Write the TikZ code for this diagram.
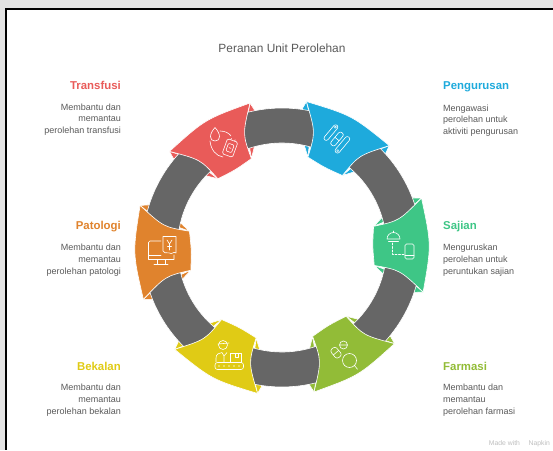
\documentclass[tikz,border=0pt]{standalone}
\usepackage{fontspec}
\setmainfont{Liberation Sans}
\definecolor{ringgray}{HTML}{666666}
\definecolor{textgray}{HTML}{5A5A5A}
\definecolor{transfusired}{HTML}{E95B59}
\definecolor{urusblue}{HTML}{1EAADC}
\definecolor{sajiangreen}{HTML}{3EC686}
\definecolor{farmasilime}{HTML}{92BC37}
\definecolor{bekalanyellow}{HTML}{E0CB15}
\definecolor{patologiorange}{HTML}{E0832D}
\tikzset{
  whiteedge/.style={draw=white,line width=0.6pt,line join=round},
  iconline/.style={draw=white,line width=0.6pt,line cap=round,line join=round},
  headtext/.style={inner sep=0pt,font=\fontsize{11.4}{14}\selectfont\bfseries},
  bodyleft/.style={inner sep=0pt,anchor=north west,align=left,text=textgray,font=\fontsize{9}{11.7}\selectfont},
  bodyright/.style={inner sep=0pt,anchor=north east,align=right,text=textgray,font=\fontsize{9}{11.7}\selectfont}
}
% small tips of a piece, they stay beside the band
\newcommand{\ringflaps}[2]{
  \begin{scope}[shift={(282,202.5)},rotate=#1]
  \filldraw[whiteedge,fill=#2] (18.5:148) -- (19.8:139.5) -- (14:125) -- cycle;
  \filldraw[whiteedge,fill=#2] (12:94) -- (15.5:104) -- (14:118) -- cycle;
  \filldraw[whiteedge,fill=#2] (-18.5:148) -- (-19.8:139.5) -- (-14:125) -- cycle;
  \filldraw[whiteedge,fill=#2] (-12:94) -- (-15.5:104) -- (-14:118) -- cycle;
  \end{scope}
}
\newcommand{\ringband}[2]{
  \filldraw[whiteedge,fill=ringgray,shift={(282,202.5)}] (#1:139.5) arc[start angle=#1,end angle=#2,radius=139.5]
    -- (#2:104.5) arc[start angle=#2,end angle=#1,radius=104.5] -- cycle;
}
\newcommand{\ringpiece}[2]{
  \filldraw[whiteedge,fill=#2,shift={(282,202.5)},rotate=#1] (18.5:148) .. controls (0:149.5) .. (-18.5:148)
    .. controls (-11.8:120) .. (-12:94) .. controls (0:90.5) .. (12:94)
    .. controls (11.8:120) .. (18.5:148) -- cycle;
}
\begin{document}
\begin{tikzpicture}[x=1pt,y=1pt]
\useasboundingbox (0,0) rectangle (553,450);
\fill[gray!22] (0,0) rectangle (553,450);
\fill[black] (5,0) rectangle (553,441.5);
\fill[white] (6.6,0) rectangle (553,440);

\ringflaps{1}{sajiangreen}
\ringflaps{62}{urusblue}
\ringflaps{121}{transfusired}
\ringflaps{182}{patologiorange}
\ringflaps{242}{bekalanyellow}
\ringflaps{301}{farmasilime}

\ringband{11}{52}
\ringband{72}{111}
\ringband{131}{172}
\ringband{192}{232}
\ringband{252}{291}
\ringband{311}{351}

\ringpiece{1}{sajiangreen}
\ringpiece{62}{urusblue}
\ringpiece{121}{transfusired}
\ringpiece{182}{patologiorange}
\ringpiece{242}{bekalanyellow}
\ringpiece{301}{farmasilime}

\begin{scope}[shift={(0,450)},yscale=-1]
\node[text=textgray,font=\fontsize{11.9}{14}\selectfont] (title) at (282,48) {Peranan Unit Perolehan};

\node[headtext,text=transfusired,anchor=base east] (transfusihead) at (121,90) {Transfusi};
\node[bodyright] (transfusibody) at (121,103.3) {Membantu dan\\memantau\\perolehan transfusi};
\node[headtext,text=patologiorange,anchor=base east] (patologihead) at (121,230) {Patologi};
\node[bodyright] (patologibody) at (121,244) {Membantu dan\\memantau\\perolehan patologi};
\node[headtext,text=bekalanyellow,anchor=base east] (bekalanhead) at (121,370) {Bekalan};
\node[bodyright] (bekalanbody) at (121,384) {Membantu dan\\memantau\\perolehan bekalan};
\node[headtext,text=urusblue,anchor=base west] (urushead) at (443,90) {Pengurusan};
\node[bodyleft] (urusbody) at (443,104.5) {Mengawasi\\perolehan untuk\\aktiviti pengurusan};
\node[headtext,text=sajiangreen,anchor=base west] (sajianhead) at (443,230) {Sajian};
\node[bodyleft] (sajianbody) at (443,244) {Menguruskan\\perolehan untuk\\peruntukan sajian};
\node[headtext,text=farmasilime,anchor=base west] (farmasihead) at (443,370) {Farmasi};
\node[bodyleft] (farmasibody) at (443,384) {Membantu dan\\memantau\\perolehan farmasi};
\node[anchor=east,inner sep=0pt,text=gray!50,font=\fontsize{6.8}{8}\selectfont] (napkin) at (550,444) {Made with \quad Napkin};

% transfusi icon
\draw[iconline] (215,127.5) .. controls (209,134) and (209,141) .. (215,141) .. controls (221,141) and (221,134) .. (215,127.5);
\draw[iconline] (220,131) .. controls (225,131) and (229,133) .. (231,136);
\draw[iconline] (210,141) .. controls (211,150) and (216,156) .. (223,157);
\begin{scope}[shift={(230,148)},rotate=20]
\draw[iconline,rounded corners=1.5pt] (-5.5,-8) rectangle (5.5,8);
\draw[iconline,rounded corners=1pt] (-3,-4) rectangle (3,4);
\draw[iconline] (-2,-9.5) -- (-2,-8) (2,-9.5) -- (2,-8) (-1,0) -- (1,0);
\end{scope}
% pengurusan icon
\begin{scope}[shift={(337,139)},rotate=40]
\draw[iconline,rounded corners=2.2pt] (-11,-10.5) rectangle (-6.5,8.5);
\draw[iconline,rounded corners=2.2pt] (-2.7,-8) rectangle (2.7,8);
\draw[iconline,rounded corners=2.2pt] (5.5,-9) rectangle (10.3,11);
\draw[iconline] (-2.7,0) -- (2.7,0) (-8.75,-8) circle (1pt) (7.9,8.5) circle (1pt);
\end{scope}
% sajian icon
\draw[iconline] (387,239) -- (400,239) (387,239) arc[start angle=180,end angle=360,x radius=6.5,y radius=6.5];
\draw[iconline] (388.5,241.5) -- (398.5,241.5) (393.5,232.5) -- (393.5,231);
\draw[iconline,dashed,dash pattern=on 2pt off 1.5pt] (392.5,243) -- (392.5,254.5) -- (404,254.5);
\draw[iconline,rounded corners=1.5pt] (405,244) rectangle (414,259);
\draw[iconline] (405,255.5) -- (414,255.5);
% farmasi icon
\begin{scope}[shift={(336,352.7)},rotate=-40]
\draw[iconline,rounded corners=2.5pt] (-3.5,-5.5) rectangle (3.5,5.5);
\draw[iconline] (-3.5,0) -- (3.5,0);
\end{scope}
\draw[iconline] (343.5,345) circle (4pt) (340.5,345) -- (346.5,345);
\draw[iconline] (349.5,360.5) circle (7pt) (354.5,365.5) -- (357.5,369.3);
% patologi icon
\draw[iconline] (161,241) -- (150,241) -- (148.5,242.5) -- (148.5,259.5) -- (174,259.5) -- (174,255);
\draw[iconline] (148.5,255.5) -- (161,255.5) (157,259.5) -- (157,264.5) (165,259.5) -- (165,264.5) (154,264.5) -- (168,264.5);
\draw[iconline] (163,251) -- (163,236.5) -- (176,236.5) -- (176,253) .. controls (173,251) and (172,255) .. (169.5,253) .. controls (167,251) and (166,255) .. (163,251);
\draw[iconline] (167,240) -- (169.5,244) -- (172,240) (169.5,244) -- (169.5,250) (167.5,246.5) -- (171.5,246.5);
% bekalan icon
\draw[iconline] (223,345) circle (4.5pt) (218,344) -- (229,343);
\draw[iconline] (216,362) -- (216,358) .. controls (216,354) and (219,353) .. (222,352.5) -- (224,356) -- (227,352.5) (224,356) -- (224,362);
\draw[iconline] (230.5,353.5) rectangle (241.5,362.5) (235,353.5) -- (235,357) -- (238,357) -- (238,353.5);
\draw[iconline,rounded corners=2.5pt] (215,362.5) rectangle (243.5,369.5);
\draw[iconline] (219,366) circle (0.5pt) (224,366) circle (0.5pt) (229,366) circle (0.5pt) (234,366) circle (0.5pt) (239,366) circle (0.5pt);
\end{scope}
\end{tikzpicture}
\end{document}
